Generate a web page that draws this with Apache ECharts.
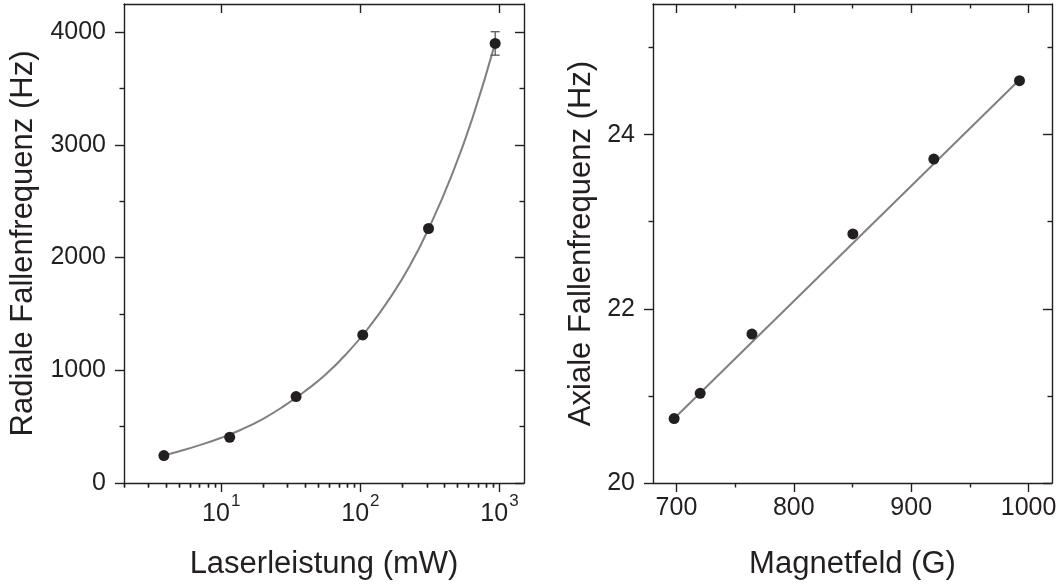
<!DOCTYPE html>
<html>
<head>
<meta charset="utf-8">
<script src="https://cdn.jsdelivr.net/npm/echarts@6/dist/echarts.min.js"></script>
<style>
html,body{margin:0;padding:0;background:#fff;}
#chart{width:1061px;height:586px;}
</style>
</head>
<body>
<div id="chart"></div>
<script>
// ---- Left panel data (radial trap frequency vs laser power) ----
const powerMW   = [3.87, 11.5, 34.5, 104, 309, 931];
const radialHz  = [243, 406, 767, 1314, 2258, 3900];
const radialErr = [0, 0, 0, 0, 0, 104];
const fitPower  = [3.87, 5, 7, 10, 14, 20, 28, 40, 56, 80, 112, 160, 225, 320, 450, 640, 931];
const fitRadial = [245, 282, 336, 402, 475, 570, 680, 815, 960, 1150, 1362, 1625, 1920, 2295, 2720, 3240, 3905];
const leftXMajor = [10, 100, 1000];
const leftXMinor = [2,3,4,5,6,7,8,9,20,30,40,50,60,70,80,90,200,300,400,500,600,700,800,900];
const leftYMajor = [0, 1000, 2000, 3000, 4000];
const leftYMinor = [500, 1500, 2500, 3500];

// ---- Right panel data (axial trap frequency vs magnetic field) ----
const fieldG   = [698, 720.2, 764.3, 850.3, 919.3, 992.3];
const axialHz  = [20.74, 21.03, 21.71, 22.86, 23.72, 24.62];
const fitField = [698, 992.3];
const fitAxial = [20.74, 24.63];
const rightXMajor = [700, 800, 900, 1000];
const rightXMinor = [750, 850, 950];
const rightYMajor = [20, 22, 24];
const rightYMinor = [21, 23, 25];

const INK = '#231f20';
const FONT = "'Liberation Sans', Arial, sans-serif";
const AXW = 1.4;
const TICKFS = 25;
const NAMEFS = 31;

const chart = echarts.init(document.getElementById('chart'), null, {renderer: 'canvas'});

function axisSet(kind, gridIndex, type, min, max, major, minor, opts) {
  const pos = kind === 'x' ? ['bottom', 'top'] : ['left', 'right'];
  const base = {gridIndex, type, min, max, splitLine: {show: false}, silent: true};
  if (type === 'log') base.logBase = 10;
  const line = {show: true, onZero: false, lineStyle: {color: INK, width: AXW}};
  return [
    Object.assign({}, base, {
      position: pos[0],
      axisLine: line,
      axisTick: {show: true, inside: false, length: 9, customValues: major, lineStyle: {color: INK, width: AXW}},
      axisLabel: Object.assign({
        show: true, customValues: major, color: INK, fontFamily: FONT, fontSize: TICKFS,
        margin: kind === 'x' ? 13 : 18,
        formatter: function (v) { return String(v); }
      }, opts.label || {}),
      name: opts.name, nameLocation: 'middle', nameGap: opts.nameGap,
      nameTextStyle: {color: INK, fontFamily: FONT, fontSize: NAMEFS}
    }),
    Object.assign({}, base, {
      position: pos[0],
      axisLine: {show: false},
      axisTick: {show: true, inside: false, length: 4.5, customValues: minor, lineStyle: {color: INK, width: AXW}},
      axisLabel: {show: false}
    }),
    Object.assign({}, base, {
      position: pos[1],
      axisLine: line,
      axisTick: {show: true, inside: true, length: 9, customValues: major, lineStyle: {color: INK, width: AXW}},
      axisLabel: {show: false}
    }),
    Object.assign({}, base, {
      position: pos[1],
      axisLine: {show: false},
      axisTick: {show: true, inside: true, length: 4.5, customValues: minor, lineStyle: {color: INK, width: AXW}},
      axisLabel: {show: false}
    })
  ];
}

const xAxes = [].concat(
  axisSet('x', 0, 'log', 2, 1500, leftXMajor, leftXMinor, {
    name: 'Laserleistung (mW)', nameGap: 66,
    label: {
      margin: 10,
      formatter: function (v) { const e = Math.round(Math.log10(v)); return '{b|10}{s|' + e + '}'; },
      rich: {
        b: {fontSize: TICKFS, fontFamily: FONT, color: INK, verticalAlign: 'bottom', padding: [9, 0, 0, 0]},
        s: {fontSize: 17, fontFamily: FONT, color: INK, verticalAlign: 'top', padding: [0, 0, 13, 1]}
      }
    }
  }),
  axisSet('x', 1, 'value', 680, 1020, rightXMajor, rightXMinor, {
    name: 'Magnetfeld (G)', nameGap: 66
  })
);
const yAxes = [].concat(
  axisSet('y', 0, 'value', 0, 4250, leftYMajor, leftYMinor, {
    name: 'Radiale Fallenfrequenz (Hz)', nameGap: 85
  }),
  axisSet('y', 1, 'value', 20, 25.5, rightYMajor, rightYMinor, {
    name: 'Axiale Fallenfrequenz (Hz)', nameGap: 56
  })
);

const leftPoints = powerMW.map((p, i) => [p, radialHz[i]]);
const leftErr = powerMW.map((p, i) => [p, radialHz[i] - radialErr[i], radialHz[i] + radialErr[i]]).filter((d, i) => radialErr[i] > 0);
const leftFit = fitPower.map((p, i) => [p, fitRadial[i]]);
const rightPoints = fieldG.map((b, i) => [b, axialHz[i]]);
const rightFit = fitField.map((b, i) => [b, fitAxial[i]]);

const option = {
  backgroundColor: '#ffffff',
  animation: false,
  grid: [
    {left: 124, right: 537, top: 4, bottom: 103, containLabel: false},
    {left: 653, right: 9, top: 4, bottom: 103, containLabel: false}
  ],
  xAxis: xAxes,
  yAxis: yAxes,
  series: [
    {
      type: 'line', xAxisIndex: 0, yAxisIndex: 0, data: leftFit, smooth: true,
      showSymbol: false, symbol: 'none', lineStyle: {color: '#808080', width: 2}, z: 2, silent: true
    },
    {
      type: 'custom', xAxisIndex: 0, yAxisIndex: 0, data: leftErr, z: 3, silent: true,
      renderItem: function (params, api) {
        const x = api.value(0);
        const lo = api.coord([x, api.value(1)]);
        const hi = api.coord([x, api.value(2)]);
        const w = 4.5;
        const st = {stroke: '#4d4d4d', lineWidth: 1.2};
        return {type: 'group', children: [
          {type: 'line', shape: {x1: hi[0], y1: hi[1], x2: lo[0], y2: lo[1]}, style: st},
          {type: 'line', shape: {x1: hi[0] - w, y1: hi[1], x2: hi[0] + w, y2: hi[1]}, style: st},
          {type: 'line', shape: {x1: lo[0] - w, y1: lo[1], x2: lo[0] + w, y2: lo[1]}, style: st}
        ]};
      }
    },
    {
      type: 'scatter', xAxisIndex: 0, yAxisIndex: 0, data: leftPoints, symbol: 'circle', symbolSize: 11,
      itemStyle: {color: INK, opacity: 1}, z: 4, silent: true
    },
    {
      type: 'line', xAxisIndex: 4, yAxisIndex: 4, data: rightFit,
      showSymbol: false, symbol: 'none', lineStyle: {color: '#808080', width: 2}, z: 2, silent: true
    },
    {
      type: 'scatter', xAxisIndex: 4, yAxisIndex: 4, data: rightPoints, symbol: 'circle', symbolSize: 11,
      itemStyle: {color: INK, opacity: 1}, z: 4, silent: true
    }
  ]
};
chart.setOption(option);
</script>
</body>
</html>
